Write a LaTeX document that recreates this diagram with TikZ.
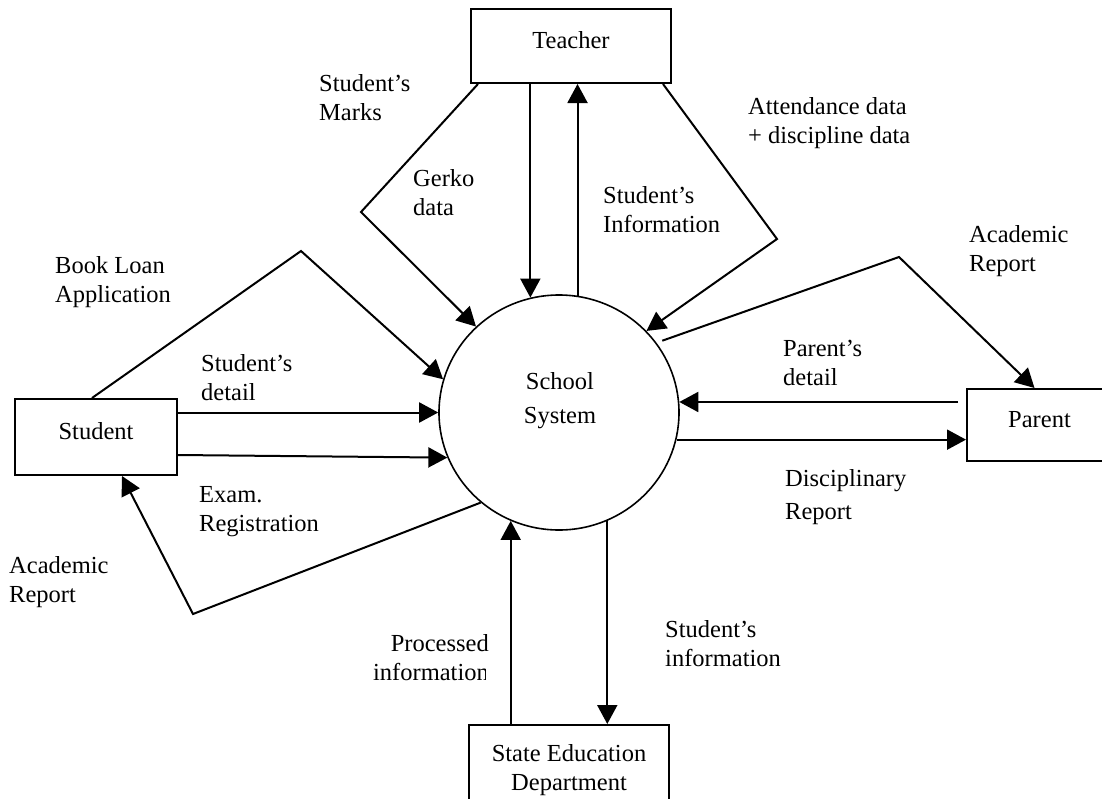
\documentclass[tikz,border=0pt]{standalone}
\usepackage{fontspec}
\setmainfont{Liberation Serif}
\usetikzlibrary{arrows.meta,shapes.geometric}
\begin{document}
\begin{tikzpicture}[x=1pt,y=-1pt,
  lbl/.style={inner sep=0pt, anchor=north west, align=left, font=\fontsize{24.5}{28.5}\selectfont},
  ent/.style={draw, line width=2pt, inner sep=0pt, text height=16pt, text depth=12pt, font=\fontsize{24.5}{28.5}\selectfont},
  proc/.style={draw, ellipse, line width=1.6pt, inner sep=0pt, minimum width=240pt, minimum height=235pt},
  flow/.style={line width=2pt, -{Triangle[length=19pt,width=20pt]}}]
\useasboundingbox (0,0) rectangle (1102,798);
\clip (0,0) rectangle (1102,798);
\fill[white] (0,0) rectangle (1102,798);

% entities
\node[ent, minimum width=200pt, minimum height=74pt] (tch) at (571,46) {Teacher};
\node[ent, minimum width=162pt, minimum height=76pt] (stu) at (96,437) {Student};
\node[ent, minimum width=145pt, minimum height=72pt] (par) at (1039.5,425) {Parent};
\node[draw, line width=2pt, inner sep=0pt, minimum width=200pt, minimum height=90pt, align=center,
      font=\fontsize{24.5}{29}\selectfont] (sed) at (569,770) {State Education\\Department};

% process
\node[proc] (sys) at (559,412.5) {};
\node[inner sep=0pt, align=center, font=\fontsize{24.5}{34}\selectfont] (systxt)
     at ([shift={(1pt,11.6pt)}]sys.center) {School\\System};

% bend points
\coordinate (gk) at (361,212);
\coordinate (bl) at (301,251);
\coordinate (attb) at (777,239);
\coordinate (arp) at (899,257);
\coordinate (ars) at (193,614);

% teacher flows
\draw[flow] (sys.104.8 |- tch.south) -- (sys.104.8);
\draw[flow] (sys.81.2) -- (sys.81.2 |- tch.south);
\draw[flow] ([xshift=8pt]tch.south west) -- (gk) -- (sys.134.5);
\draw[flow] ([xshift=-9pt]tch.south east) -- (attb) -- (sys.43.5);

% student flows
\draw[flow] ([xshift=-4pt]stu.north) -- (bl) -- (sys.164.7);
\draw[flow] (sys.180 -| stu.east) -- (sys.180);
\draw[flow] ([yshift=-18pt]stu.east) -- (sys.202.4);
\draw[flow] (sys.229) -- (ars) -- ([xshift=26pt]stu.south);

% parent flows
\draw[flow] ([shift={(5pt,3pt)}]sys.35.4) -- (arp) -- ([xshift=-5pt]par.north);
\draw[flow] ([xshift=-8pt]par.west |- sys.5.5) -- (sys.5.5);
\draw[flow] (sys.-13.8) -- (sys.-13.8 -| par.west);

% state education flows
\draw[flow] (sys.246 |- sed.north) -- (sys.246);
\draw[flow] (sys.294) -- (sys.294 |- sed.north);

% labels
\node[lbl] (l1) at (319,74.5) {Student’s\\Marks};
\node[lbl] (l2) at (413,169.5) {Gerko\\data};
\node[lbl] (l3) at (603,186.5) {Student’s\\Information};
\node[lbl] (l4) at (748,97.5) {Attendance data\\+ discipline data};
\node[lbl] (l5) at (969,225.5) {Academic\\Report};
\node[lbl] (l6) at (55,256.5) {Book Loan\\Application};
\node[lbl] (l7) at (201,354.5) {Student’s\\detail};
\node[lbl] (l8) at (783,340.5) {Parent’s\\detail};
\node[lbl] (l9) at (199,486.5) {Exam.\\Registration};
\node[lbl] (l10) at (9,556.5) {Academic\\Report};
\begin{scope}
\clip (300,600) rectangle (500,656) (300,656) rectangle (485.5,700);
\node[lbl, anchor=north east, align=right] (l11) at (489,634.5) {Processed\\information};
\end{scope}
\node[lbl, font=\fontsize{24.5}{33}\selectfont] (l12) at (785,469.5) {Disciplinary\\Report};
\node[lbl] (l13) at (665,620.5) {Student’s\\information};
\end{tikzpicture}
\end{document}
